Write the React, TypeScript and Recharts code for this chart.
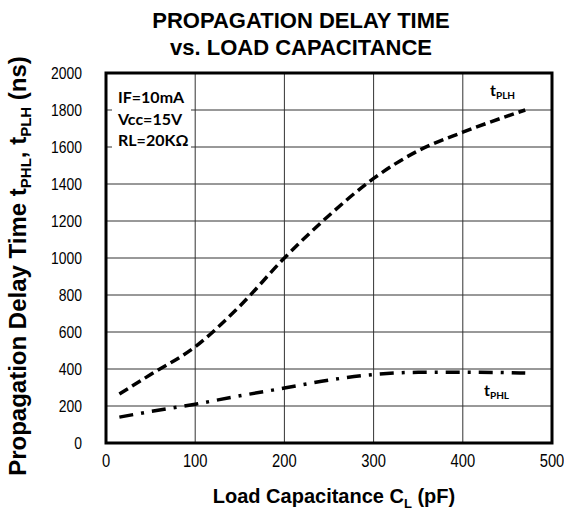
import {
  LineChart,
  Line,
  XAxis,
  YAxis,
  CartesianGrid,
  ReferenceArea,
} from 'recharts';

// load capacitance (pF) at which the curves were read
const capacitance = [15, 50, 100, 150, 200, 250, 300, 350, 400, 470];
// propagation delay, low -> high (ns)
const tPLH = [265, 370, 520, 740, 1000, 1230, 1430, 1580, 1680, 1800];
// propagation delay, high -> low (ns)
const tPHL = [140, 170, 210, 255, 297, 340, 370, 382, 383, 378];

const xTicks = [0, 100, 200, 300, 400, 500];
const yTicks = [0, 200, 400, 600, 800, 1000, 1200, 1400, 1600, 1800, 2000];
const conditions = ['IF=10mA', 'Vcc=15V', 'RL=20KΩ'];

const data = capacitance.map((c, i) => ({ c, plh: tPLH[i], phl: tPHL[i] }));

const W = 564;
const H = 513;
const tickFont = '"Liberation Sans", Arial, sans-serif';
const boldFont = '"Liberation Sans", Arial, sans-serif';
const noteFont = 'Lato, "Open Sans", sans-serif';

// narrow-looking tick labels (Arial Narrow in the original)
const XTick = ({ x, y, payload }: any) => (
  <g transform={`translate(${x},${y + 22}) scale(0.82,1)`}>
    <text textAnchor="middle" fontSize={18} fontFamily={tickFont} fill="#000">
      {payload.value}
    </text>
  </g>
);

const YTick = ({ y, payload }: any) => (
  <g transform={`translate(82,${y + 6}) scale(0.82,1)`}>
    <text textAnchor="end" fontSize={17} fontFamily={tickFont} fill="#000">
      {payload.value}
    </text>
  </g>
);

export default function App() {
  return (
    <div style={{ position: 'absolute', left: 0, top: 0, width: W, height: H, background: '#fff' }}>
      <LineChart
        width={W}
        height={H}
        data={data}
        margin={{ top: 73, right: 12, bottom: 40, left: 0 }}
      >
        <CartesianGrid stroke="#333" strokeWidth={1} />
        <XAxis
          type="number"
          dataKey="c"
          domain={[0, 500]}
          ticks={xTicks}
          interval={0}
          height={30}
          tickSize={0}
          axisLine={false}
          tick={<XTick />}
        />
        <YAxis
          type="number"
          domain={[0, 2000]}
          ticks={yTicks}
          interval={0}
          width={106}
          tickSize={0}
          axisLine={false}
          tick={<YTick />}
        />
        <ReferenceArea
          x1={0}
          x2={500}
          y1={0}
          y2={2000}
          fill="none"
          fillOpacity={0}
          stroke="#000"
          strokeWidth={3}
        />
        <Line
          type="monotone"
          dataKey="plh"
          stroke="#000"
          strokeWidth={3.5}
          strokeDasharray="10 5"
          dot={false}
          isAnimationActive={false}
        />
        <Line
          type="monotone"
          dataKey="phl"
          stroke="#000"
          strokeWidth={3.5}
          strokeDasharray="14 8 3 8"
          dot={false}
          isAnimationActive={false}
        />
      </LineChart>

      <svg width={W} height={H} style={{ position: 'absolute', left: 0, top: 0, pointerEvents: 'none' }}>
        <g fontFamily={boldFont} fontWeight="bold" fill="#000">
          <text x={301} y={28} fontSize={22} textAnchor="middle">PROPAGATION DELAY TIME</text>
          <text x={301} y={55} fontSize={22} textAnchor="middle">vs. LOAD CAPACITANCE</text>
          <text x={334} y={503} fontSize={20} textAnchor="middle">
            Load Capacitance C<tspan fontSize={13} dy={5}>L</tspan>
            <tspan dy={-5}> (pF)</tspan>
          </text>
          <text transform="translate(26 266) rotate(-90)" fontSize={24} textAnchor="middle">
            Propagation Delay Time t<tspan fontSize={15} dy={5}>PHL</tspan>
            <tspan dy={-5}>, t</tspan>
            <tspan fontSize={15} dy={5}>PLH</tspan>
            <tspan dy={-5}> (ns)</tspan>
          </text>
        </g>
        <rect x={112} y={80} width={79} height={73} fill="#fff" />
        <g fontFamily={noteFont} fontWeight="bold" fill="#000" fontSize={16}>
          {conditions.map((t, i) => (
            <text key={t} x={118} y={103 + i * 21.5}>{t}</text>
          ))}
          <text x={490} y={96}>
            t<tspan fontSize={10} dy={3}>PLH</tspan>
          </text>
          <text x={484} y={396}>
            t<tspan fontSize={10} dy={3}>PHL</tspan>
          </text>
        </g>
      </svg>
    </div>
  );
}
